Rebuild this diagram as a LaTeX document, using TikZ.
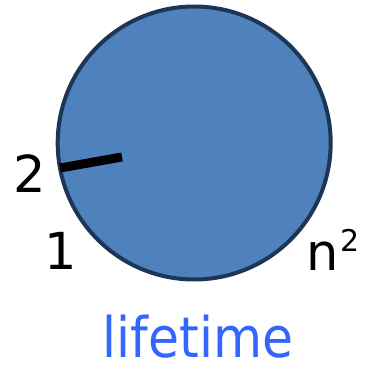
\documentclass[tikz,border=0pt]{standalone}
\usepackage{fontspec}
\setmainfont{DejaVu Sans}
\definecolor{circfill}{RGB}{79,129,189}
\definecolor{circline}{RGB}{30,54,86}
\definecolor{labblue}{RGB}{51,102,255}
\tikzset{
  lbl/.style={inner sep=0pt, font=\fontsize{51}{51}\selectfont},
  suplbl/.style={inner sep=0pt, font=\fontsize{30}{30}\selectfont},
}
\begin{document}
\begin{tikzpicture}[x=1pt,y=1pt]
\useasboundingbox (0,0) rectangle (366,368);
\node[circle, draw=circline, fill=circfill, line width=4pt, minimum size=273pt, inner sep=0pt] (clock) at (194.2,225) {};
\coordinate (hs) at (60,200);
\coordinate (he) at (122,211);
\draw[line width=9pt] (hs) -- (he);
\node[lbl] (two) at (29.5,194) {2};
\node[lbl] (one) at (61,117) {1};
\node[lbl] (n) at (323,112) {n};
\node[suplbl] (sq) at (350,128) {2};
\node[inner sep=0pt, anchor=base, text depth=0pt, text=labblue, font=\fontsize{56}{56}\selectfont, xscale=0.9] (life) at (198,10) {lifetime};
\end{tikzpicture}
\end{document}
